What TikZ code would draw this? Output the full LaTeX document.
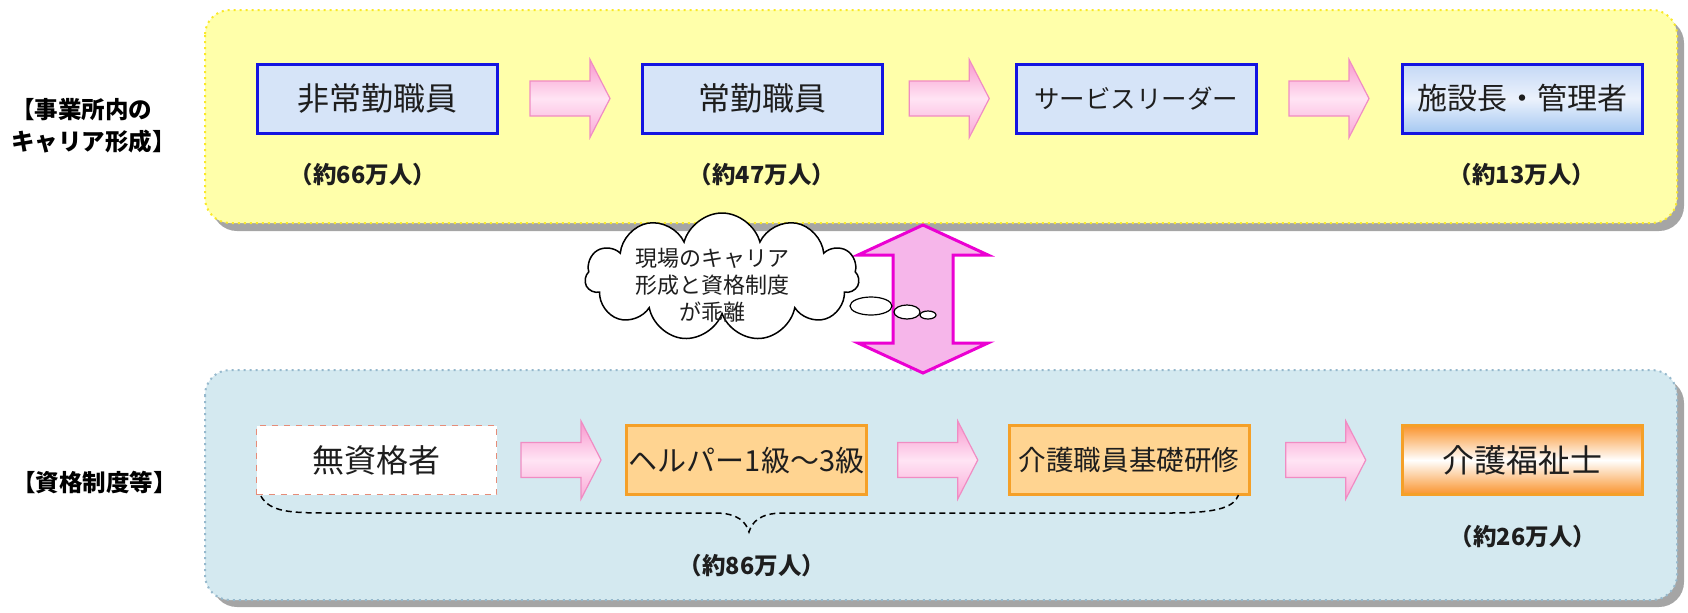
\documentclass[tikz,border=0pt]{standalone}
\usepackage{fontspec}
\setmainfont{Noto Sans CJK JP}
\usetikzlibrary{shapes.symbols,shapes.geometric,calc}
\definecolor{panelY}{RGB}{255,255,170}
\definecolor{panelYb}{RGB}{250,232,40}
\definecolor{panelB}{RGB}{212,233,240}
\definecolor{panelBb}{RGB}{150,185,205}
\definecolor{shadowG}{RGB}{165,165,165}
\definecolor{boxBfill}{RGB}{214,228,248}
\definecolor{boxBline}{RGB}{20,20,225}
\definecolor{boxBtop}{RGB}{196,216,246}
\definecolor{boxBmid}{RGB}{236,242,252}
\definecolor{boxBbot}{RGB}{165,200,242}
\definecolor{boxOfill}{RGB}{255,212,145}
\definecolor{boxOline}{RGB}{245,160,40}
\definecolor{orgA}{RGB}{250,148,45}
\definecolor{pinkA}{RGB}{248,150,205}
\definecolor{pinkB}{RGB}{255,228,244}
\definecolor{pinkL}{RGB}{240,140,195}
\definecolor{magL}{RGB}{235,0,210}
\definecolor{magF}{RGB}{246,182,234}
\definecolor{dashR}{RGB}{230,140,120}
\definecolor{txt}{RGB}{30,30,30}
\tikzset{
  bx/.style={minimum width=120pt, minimum height=34.5pt, inner sep=0pt, line width=1.5pt, text=txt},
  topbox/.style={bx, fill=boxBfill, draw=boxBline},
  obox/.style={bx, fill=boxOfill, draw=boxOline},
  count/.style={font=\fontsize{11.75pt}{14pt}\selectfont\bfseries, text=txt, inner sep=0pt},
  lab/.style={font=\fontsize{11.75pt}{16pt}\selectfont\bfseries, align=left, anchor=west, inner sep=0pt, text=black},
  panelshadow/.style={fill=shadowG, rounded corners=12.5pt},
  parrow/.pic={\path[draw=pinkL, line width=0.6pt, top color=pinkA, bottom color=pinkA!75!pinkB, middle color=pinkB]
     (-40,-17.5) -- (20,-17.5) -- (20,-39) -- (40,0) -- (20,39) -- (20,17.5) -- (-40,17.5) -- cycle;},
  bubble/.style={ellipse, draw, fill=white, line width=0.6pt, inner sep=0pt}
}
\begin{document}
\begin{tikzpicture}[x=0.5pt,y=-0.5pt]
\useasboundingbox (0,0) rectangle (1688,612);
% panels
\fill[panelshadow] (212,18) rectangle (1684,231);
\path[draw=panelYb, fill=panelY, dotted, line width=1pt, rounded corners=12.5pt] (205,10) rectangle (1677,223);
\fill[panelshadow] (212,378) rectangle (1684,607);
\path[draw=panelBb, fill=panelB, dotted, line width=1pt, rounded corners=12.5pt] (205,370) rectangle (1677,600);
% labels
\node[lab] (L1) at (11,126) {【事業所内の\\キャリア形成】};
\node[lab] (L2) at (12,482) {【資格制度等】};
% top row
\node[topbox, font=\fontsize{16pt}{18pt}\selectfont] (t1) at (377.5,98.5) {非常勤職員};
\node[topbox, font=\fontsize{16pt}{18pt}\selectfont] (t2) at (762.5,98.5) {常勤職員};
\node[topbox, font=\fontsize{12.75pt}{15pt}\selectfont] (t3) at (1136,98.5) {サービスリーダー};
\node[bx, draw=boxBline, top color=boxBtop, bottom color=boxBbot, middle color=boxBmid, font=\fontsize{15pt}{18pt}\selectfont] (t4) at (1522,98.5) {施設長・管理者};
\pic at ($(t1.east)!0.5!(t2.west)$) {parrow};
\pic at ($(t2.east)!0.5!(t3.west)$) {parrow};
\pic at ($(t3.east)!0.5!(t4.west)$) {parrow};
\node[count] (n1) at (363,175) {（約66万人）};
\node[count] (n2) at (762,175) {（約47万人）};
\node[count] (n3) at (1522,175) {（約13万人）};
% bottom row
\node[bx, fill=white, draw=dashR, dashed, line width=0.6pt, font=\fontsize{16pt}{18pt}\selectfont] (c1) at (376.5,460) {無資格者};
\node[obox, font=\fontsize{14.5pt}{17pt}\selectfont] (c2) at (746.5,460) {ヘルパー1級～3級};
\node[obox, font=\fontsize{13.8pt}{17pt}\selectfont] (c3) at (1129,460) {介護職員基礎研修};
\node[bx, draw=boxOline, top color=orgA, bottom color=orgA, middle color=white, font=\fontsize{16pt}{18pt}\selectfont] (c4) at (1522.5,460) {介護福祉士};
\pic at ($(c1.east)!0.5!(c2.west)$) {parrow};
\pic at ($(c2.east)!0.5!(c3.west)$) {parrow};
\pic at ($(c3.east)!0.5!(c4.west)$) {parrow};
\node[count] (n4) at (1523,537) {（約26万人）};
\draw[dash pattern=on 3pt off 2pt, line width=0.75pt] ($(c1.south west)+(5,1)$) .. controls (270,512) and (290,513) .. (330,513) -- (715,513) .. controls (738,513) and (746,522) .. (749,532) .. controls (752,522) and (760,513) .. (783,513) -- (1170,513) .. controls (1222,513) and (1234,506) .. ($(c3.south east)+(-12,-1)$);
\node[count] (n5) at (752,566) {（約86万人）};
% double arrow between panels
\path[draw=magL, line width=1.5pt, fill=magF] (923,225) -- (988,255) -- (953,255) -- (953,343) -- (988,343) -- (923,373) -- (858,343) -- (893,343) -- (893,255) -- (858,255) -- cycle;
% cloud
\node[cloud, cloud puffs=11, aspect=2.1, draw, fill=white, line width=0.75pt, minimum width=137pt, minimum height=64pt, inner sep=0pt] (cl) at (722,277) {};
\node[align=center, font=\fontsize{11pt}{13.5pt}\selectfont, text=txt, inner sep=0pt] (ct) at (712,285) {現場のキャリア\\形成と資格制度\\が乖離};
\node[bubble, minimum width=21pt, minimum height=9pt] (b1) at (871,306) {};
\node[bubble, minimum width=13pt, minimum height=7pt] (b2) at (907,312) {};
\node[bubble, minimum width=8pt, minimum height=4pt] (b3) at (928,315) {};
\end{tikzpicture}
\end{document}
